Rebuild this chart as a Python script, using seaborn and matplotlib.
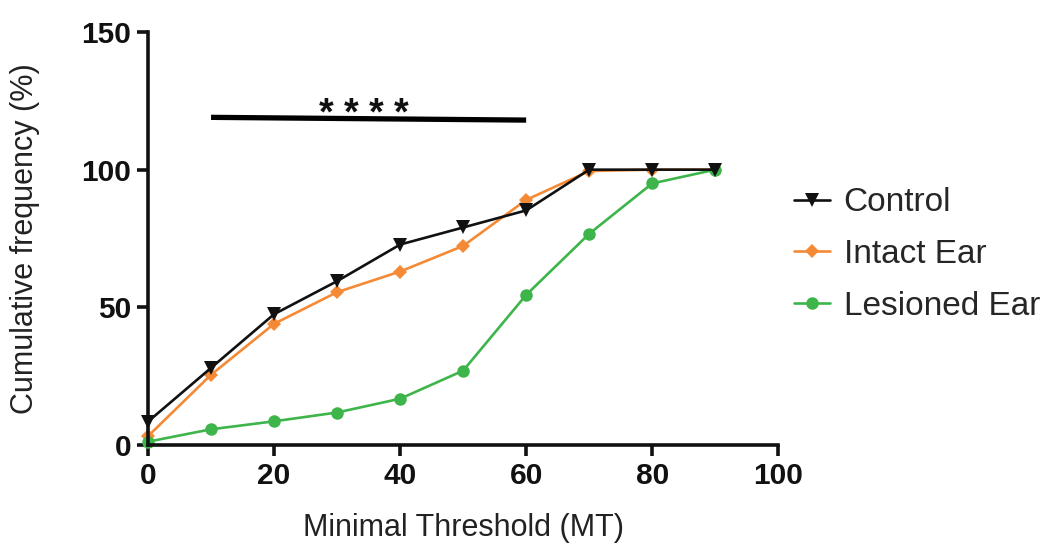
import numpy as np
import pandas as pd
import matplotlib
matplotlib.use("Agg")
import matplotlib.pyplot as plt
import seaborn as sns

# Minimal threshold bins (x) and cumulative frequency (%) per group
thresholds = [0, 10, 20, 30, 40, 50, 60, 70, 80, 90]
control = [8.5, 28, 47.5, 59.5, 72.8, 79, 85.2, 100, 100, 100]
intact_ear = [3.2, 25.5, 44, 55.5, 63, 72.3, 89, 99.5, 100, 100]
lesioned_ear = [1.2, 5.7, 8.6, 11.8, 16.8, 27, 54.5, 76.7, 95, 100]

groups = ["Control", "Intact Ear", "Lesioned Ear"]
series = [control, intact_ear, lesioned_ear]

x_ticks = [0, 20, 40, 60, 80, 100]
y_ticks = [0, 50, 100, 150]

# Significance bracket between thresholds 10 and 60
sig_x = [10, 60]
sig_y = [119, 118]
sig_label = "* * * *"

df = pd.DataFrame({
    "threshold": thresholds * len(groups),
    "freq": [v for s in series for v in s],
    "group": [g for g in groups for _ in thresholds],
})

sns.set_theme(style="ticks")
plt.rcParams["font.family"] = ["Liberation Sans", "DejaVu Sans"]

palette = {"Control": "#111111", "Intact Ear": "#F48A35", "Lesioned Ear": "#3DB54A"}
markers = {"Control": "v", "Intact Ear": "D", "Lesioned Ear": "o"}
msizes = {"Control": 10, "Intact Ear": 7, "Lesioned Ear": 9}

fig = plt.figure(figsize=(10.61, 5.45), dpi=100)
ax = fig.add_axes([0.1395, 0.1835, 0.7335 - 0.1395, 0.9413 - 0.1835])

for g in groups:
    sub = df[df["group"] == g]
    sns.lineplot(data=sub, x="threshold", y="freq", ax=ax, color=palette[g],
                 marker=markers[g], markersize=msizes[g], markeredgewidth=0,
                 linewidth=1.9, label=g, clip_on=False, zorder=3 if g == "Control" else 2)

ax.plot(sig_x, sig_y, color="black", linewidth=3.8, solid_capstyle="butt", clip_on=False)
ax.text(np.mean(sig_x) - 0.8, sig_y[0] - 5.6, sig_label, ha="center", va="bottom",
        fontsize=27, fontweight="bold", color="#111111")

ax.set_xlim(0, 100)
ax.set_ylim(0, 150)
ax.set_xticks(x_ticks)
ax.set_yticks(y_ticks)
ax.set_xticklabels([str(t) for t in x_ticks], fontsize=21.5, fontweight="bold")
ax.set_yticklabels([str(t) for t in y_ticks], fontsize=21.5, fontweight="bold")
ax.tick_params(axis="both", direction="out", length=8, width=2.6, color="#111111",
               labelcolor="#111111", pad=4)
for side in ["top", "right"]:
    ax.spines[side].set_visible(False)
for side in ["left", "bottom"]:
    ax.spines[side].set_linewidth(2.6)
    ax.spines[side].set_color("#111111")

ax.set_xlabel("Minimal Threshold (MT)", fontsize=22, color="#222222", labelpad=17)
ax.set_ylabel("Cumulative frequency (%)", fontsize=22, color="#222222", labelpad=30)

ax.get_legend().remove()
handles, labels = ax.get_legend_handles_labels()
fig.legend(handles, labels, loc="center left", bbox_to_anchor=(0.748, 0.533),
           frameon=False, fontsize=24, handlelength=1.1, handletextpad=0.4,
           labelspacing=0.62, borderpad=0, borderaxespad=0)

fig.savefig("out.png", dpi=100)
